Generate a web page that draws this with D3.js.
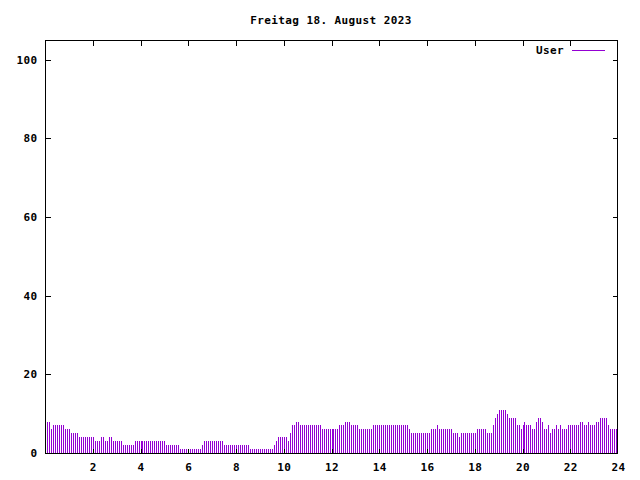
<!DOCTYPE html>
<html>
<head>
<meta charset="utf-8">
<script src="https://cdn.jsdelivr.net/npm/d3@7"></script>
<style>
  body { margin: 0; background: #fff; }
  svg text { font-family: "DejaVu Sans Mono", monospace; font-weight: bold; font-size: 11px; letter-spacing: 0.4px; fill: #000; }
</style>
</head>
<body>
<svg id="chart" width="640" height="480"></svg>
<script>
const title = "Freitag 18. August 2023";
const seriesName = "User";

// one value every 5 minutes, first sample at 00:05
const firstMinute = 5;
const stepMinutes = 5;
const users = [
  8,8,6,7,7,7,7,7,7,6,6,6,
  5,5,5,5,4,4,4,4,4,4,4,4,
  3,3,3,4,4,3,3,4,4,3,3,3,
  3,3,2,2,2,2,2,2,3,3,3,3,
  3,3,3,3,3,3,3,3,3,3,3,3,
  2,2,2,2,2,2,2,1,1,1,1,1,
  1,1,1,1,1,1,2,3,3,3,3,3,
  3,3,3,3,3,2,2,2,2,2,2,2,
  2,2,2,2,2,2,1,1,1,1,1,1,
  1,1,1,1,1,1,2,3,4,4,4,4,
  4,3,5,7,7,8,8,7,7,7,7,7,
  7,7,7,7,7,7,6,6,6,6,6,6,
  6,6,6,7,7,7,8,8,8,7,7,7,
  7,6,6,6,6,6,6,6,7,7,7,7,
  7,7,7,7,7,7,7,7,7,7,7,7,
  7,7,6,5,5,5,5,5,5,5,5,5,
  5,6,6,6,7,6,6,6,6,6,6,6,
  5,5,5,4,5,5,5,5,5,5,5,5,
  6,6,6,6,6,5,5,5,7,9,10,11,
  11,11,11,10,9,9,9,9,7,7,6,7,
  8,7,7,7,6,6,8,9,9,8,6,6,
  7,5,6,6,7,6,7,6,6,6,7,7,
  7,7,7,7,8,8,7,7,8,7,7,7,
  8,8,9,9,9,9,7,6,6,6,6
];

const xTickHours = [2, 4, 6, 8, 10, 12, 14, 16, 18, 20, 22, 24];
const yTicks = [0, 20, 40, 60, 80, 100];

const lineColor = "#9400d3";
const plotLeft = 45, plotRight = 617, plotTop = 40, plotBottom = 453;

const svg = d3.select("#chart");

// gnuplot maps the day onto 573 px, the frame is drawn one pixel short
const x = d3.scaleLinear().domain([0, 24 * 60]).range([plotLeft, plotRight + 1]);
const y = d3.scaleLinear().domain([0, 105]).range([plotBottom, plotTop]);

const data = users.map((v, i) => ({ minute: firstMinute + i * stepMinutes, value: v }));

// title
svg.append("text")
    .attr("x", (plotLeft + plotRight) / 2)
    .attr("y", 24)
    .attr("text-anchor", "middle")
    .text(title);

// impulses
svg.append("g")
    .selectAll("rect")
    .data(data)
    .join("rect")
    .attr("x", d => Math.round(x(d.minute)))
    .attr("y", d => Math.round(y(d.value)))
    .attr("width", 1)
    .attr("height", d => plotBottom - Math.round(y(d.value)))
    .attr("fill", lineColor);

// axes, ticks pointing inward like gnuplot
function styleAxis(g) {
    g.select(".domain").remove();
    g.selectAll(".tick line").attr("stroke", "#000").attr("shape-rendering", "crispEdges");
    g.selectAll(".tick").filter(d => d === 24 * 60).select("line").remove();
    g.selectAll("text").attr("fill", "#000");
    g.attr("font-family", null).attr("font-size", null);
}

const xTickValues = xTickHours.map(h => h * 60);

svg.append("g")
    .attr("transform", `translate(0,${plotBottom + 0.5})`)
    .call(d3.axisBottom(x).tickValues(xTickValues).tickFormat(m => m / 60).tickSize(-5).tickPadding(10))
    .call(styleAxis);

svg.append("g")
    .attr("transform", `translate(0,${plotTop + 0.5})`)
    .call(d3.axisTop(x).tickValues(xTickValues).tickFormat("").tickSize(-5))
    .call(styleAxis);

svg.append("g")
    .attr("transform", `translate(${plotLeft + 0.5},0)`)
    .call(d3.axisLeft(y).tickValues(yTicks).tickSize(-5).tickPadding(8))
    .call(styleAxis);

svg.append("g")
    .attr("transform", `translate(${plotRight + 0.5},0)`)
    .call(d3.axisRight(y).tickValues(yTicks).tickFormat("").tickSize(-5))
    .call(styleAxis);

// frame
svg.append("rect")
    .attr("x", plotLeft + 0.5)
    .attr("y", plotTop + 0.5)
    .attr("width", plotRight - plotLeft)
    .attr("height", plotBottom - plotTop)
    .attr("fill", "none")
    .attr("stroke", "#000")
    .attr("stroke-width", 1);

// legend
svg.append("text")
    .attr("x", 564)
    .attr("y", 54)
    .attr("text-anchor", "end")
    .text(seriesName);

svg.append("line")
    .attr("x1", 572)
    .attr("x2", 605)
    .attr("y1", 50.5)
    .attr("y2", 50.5)
    .attr("stroke", lineColor)
    .attr("stroke-width", 1);
</script>
</body>
</html>
